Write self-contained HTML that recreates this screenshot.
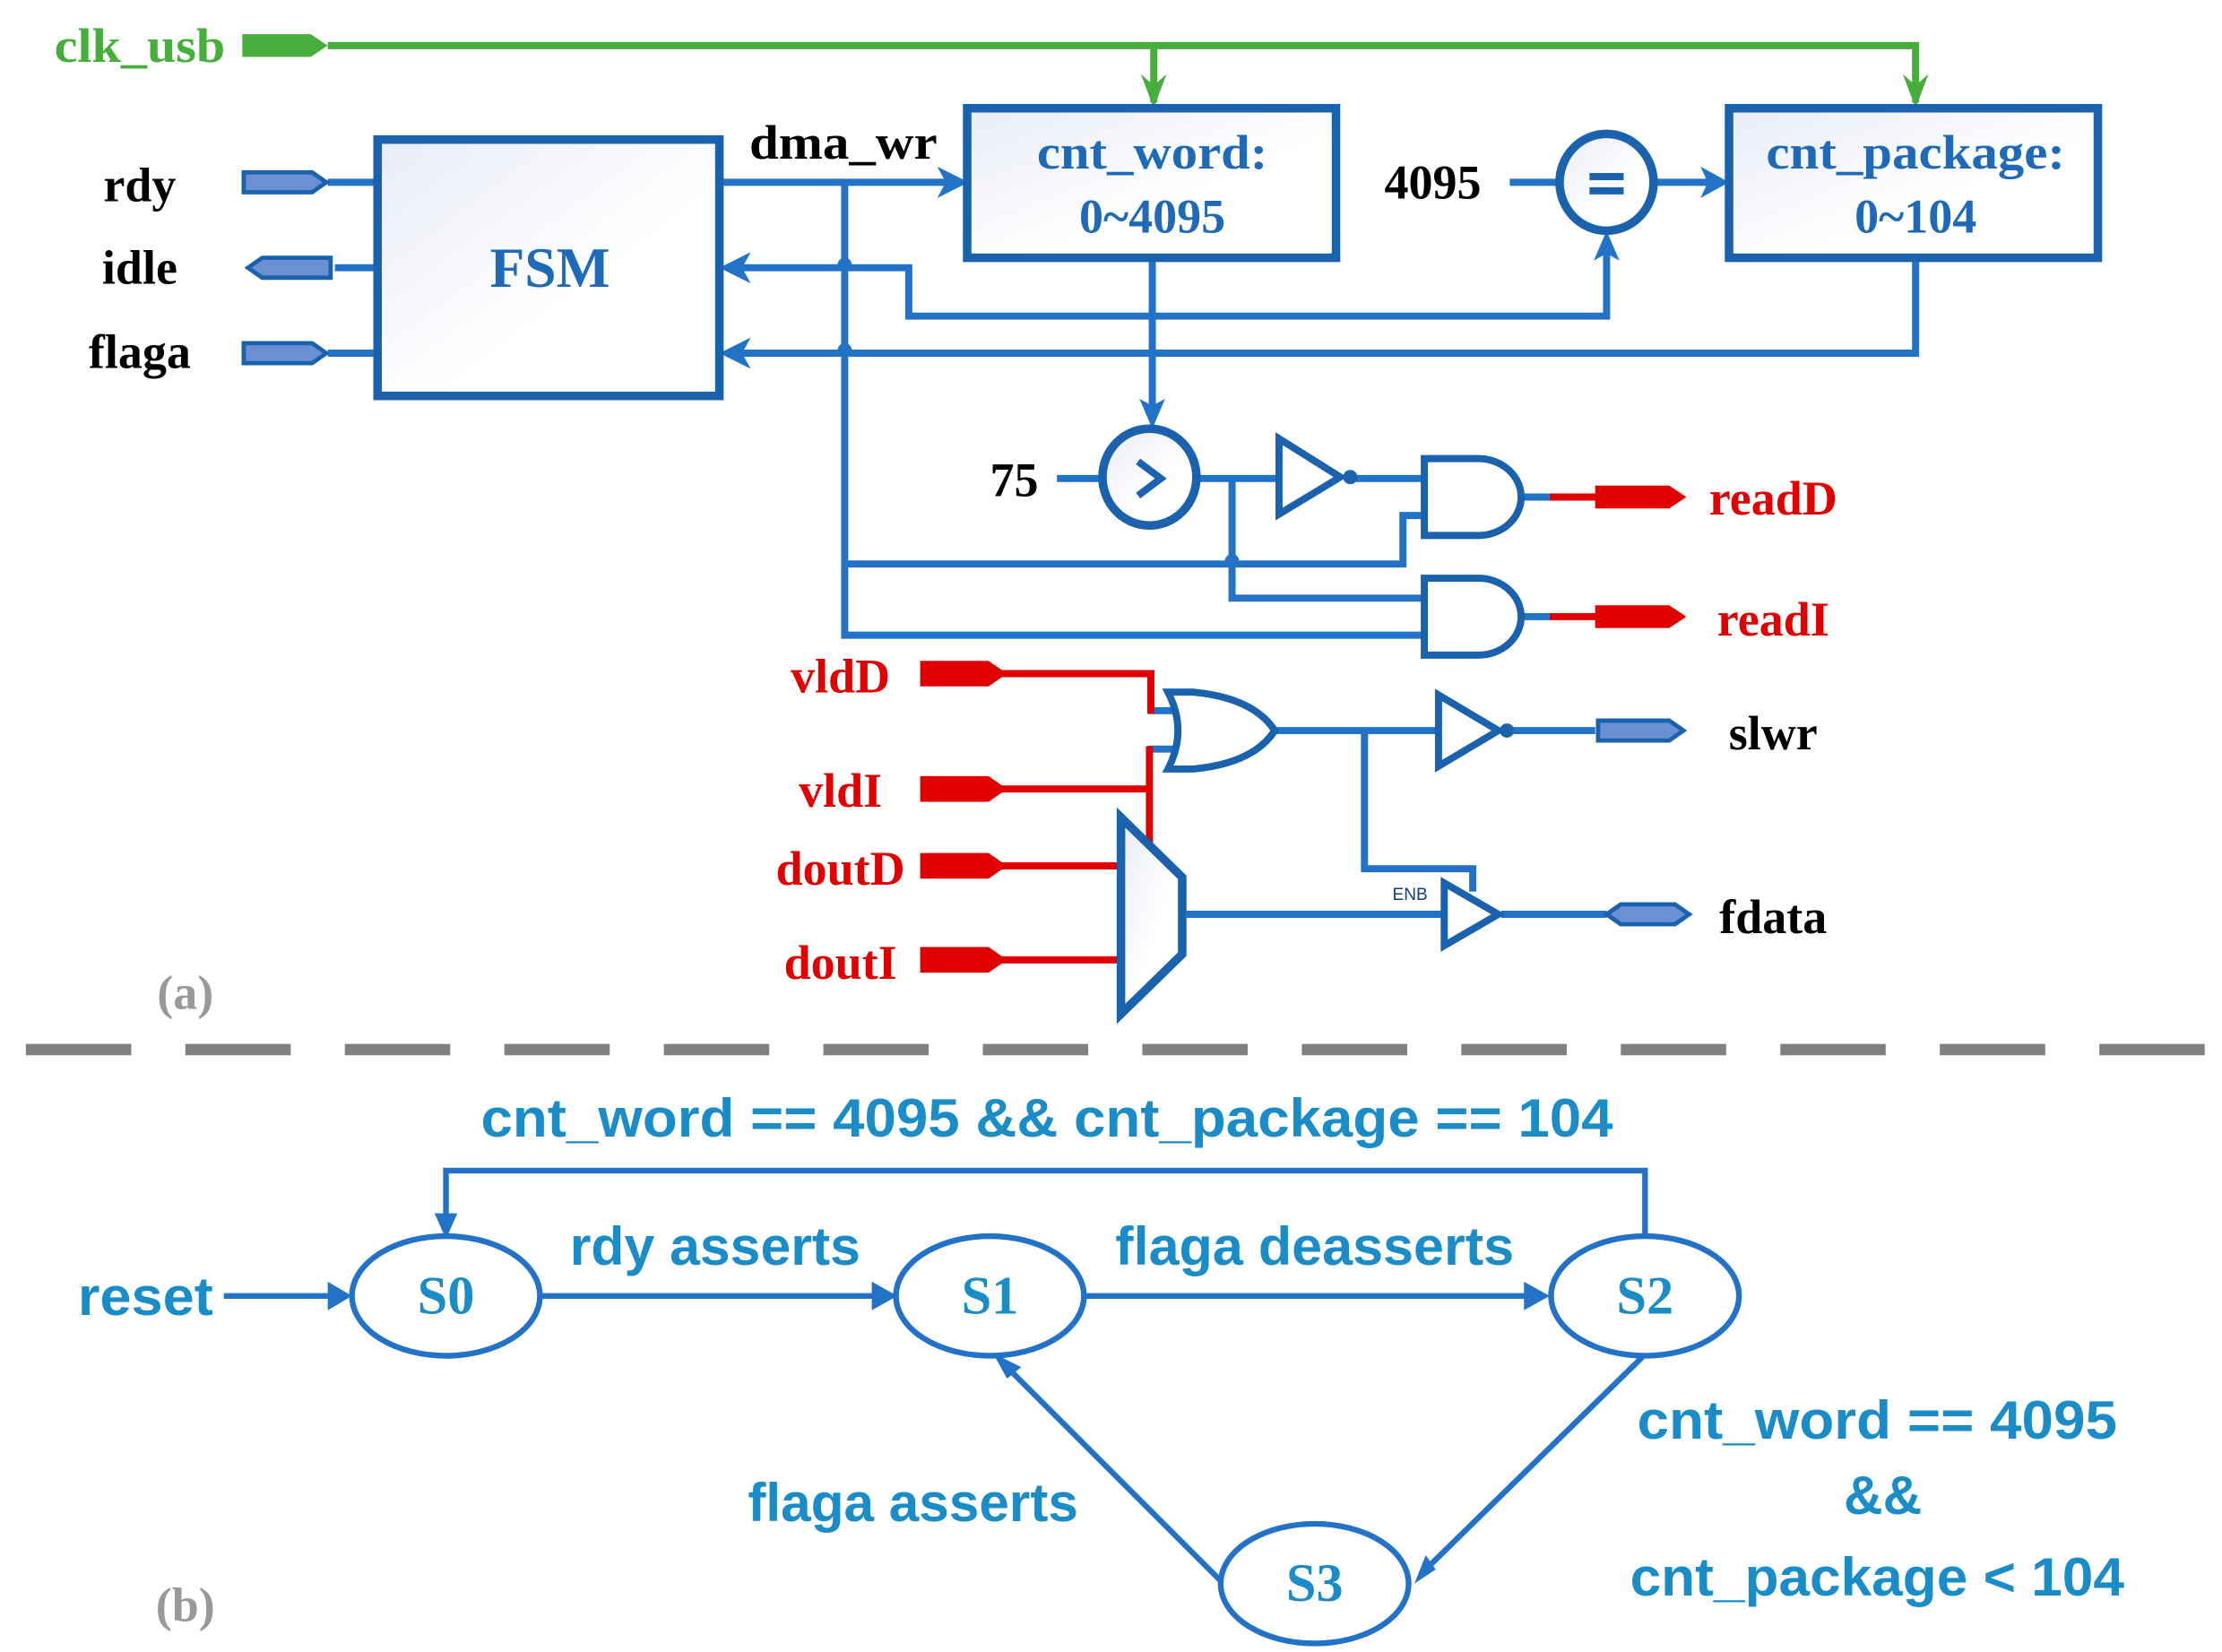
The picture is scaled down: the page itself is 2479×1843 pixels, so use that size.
<!DOCTYPE html>
<html><head><meta charset="utf-8"><style>
html,body{margin:0;padding:0;background:#fff;}
svg{display:block;}
.s{font-family:"Liberation Serif",serif;font-weight:bold;}
.b{font-family:"Liberation Sans",sans-serif;font-weight:bold;fill:#1a8cc8;}
</style></head><body>
<svg width="2479" height="1843" viewBox="0 0 1560 1160" xmlns="http://www.w3.org/2000/svg">
<defs>
<linearGradient id="g" x1="0" y1="0" x2="1" y2="1"><stop offset="0" stop-color="#e8ecf7"/><stop offset="0.6" stop-color="#ffffff"/></linearGradient>
</defs>
<g fill="none" stroke-linejoin="miter">
<path d="M230,32 H1345 V72 M810,32 V72" stroke="#46ae3a" stroke-width="5"/>
<path d="M170,24 H218 L230,32 L218,40 H170Z" fill="#46ae3a"/>
<path d="M801,52 L810,76 L819,52 L810,60Z M1336,52 L1345,76 L1354,52 L1345,60Z" fill="#46ae3a"/>

<g stroke="#2272c8" stroke-width="5">
<path d="M230,128 H265 M235,188 H265 M230,248 H265"/>
<path d="M505,128 H668"/>
<path d="M593,128 V446 H1000"/>
<path d="M515,188 H638 V222 H1128 V170"/>
<path d="M809,182 V292"/>
<path d="M515,248 H1345 V182"/>
<path d="M1060,128 H1093 M1162,128 H1205"/>
<path d="M742,336 H775 M842,336 H900 M952,336 H1000"/>
<path d="M865,336 V420 H1000"/>
<path d="M593,396 H985 V362 H1000"/>
<path d="M1070,349 H1088 M1070,433 H1088"/>
<path d="M806,499 H830 M806,526 H830"/>
<path d="M896,513 H1010 M1062,513 H1120"/>
<path d="M958,513 V610 H1034 V626"/>
<path d="M833,642 H1012 M1054,642 H1128"/>
</g>
<g fill="#2272c8">
<path d="M658,117 L680,128 L658,139 L664,128Z"/>
<path d="M527,177 L505,188 L527,199 L521,188Z"/>
<path d="M527,237 L505,248 L527,259 L521,248Z"/>
<path d="M1194,117 L1214,128 L1194,139 L1199,128Z"/>
<path d="M1119,183 L1128,162 L1137,183 L1128,178Z"/>
<path d="M800,280 L809,301 L818,280 L809,285Z"/>
<circle cx="593" cy="186" r="5"/><circle cx="593" cy="246" r="5"/><circle cx="865" cy="394" r="5"/>
</g>
<rect x="265" y="98" width="240" height="180" fill="url(#g)" stroke="#1a62ad" stroke-width="6"/>
<rect x="679" y="76" width="259" height="105" fill="url(#g)" stroke="#1a62ad" stroke-width="6"/>
<rect x="1214" y="76" width="259" height="105" fill="url(#g)" stroke="#1a62ad" stroke-width="6"/>
<ellipse cx="1128" cy="128" rx="33" ry="34" fill="url(#g)" stroke="#1a62ad" stroke-width="6"/>
<path d="M1116,124 H1140 M1116,134 H1140" stroke="#1a62ad" stroke-width="5"/>
<ellipse cx="807" cy="335" rx="33" ry="34" fill="url(#g)" stroke="#1a62ad" stroke-width="6"/>
<path d="M799,324 L815,336 L799,348" stroke="#1a62ad" stroke-width="5"/>
<path d="M898,308 L941,335 L898,361Z" fill="#fff" stroke="#1a62ad" stroke-width="5"/>
<circle cx="948" cy="335" r="5" fill="#1a62ad"/>
<path d="M1000,322 H1038 A30,27 0 0 1 1038,376 H1000Z" fill="#fff" stroke="#1a62ad" stroke-width="5"/>
<path d="M1000,406 H1038 A30,27 0 0 1 1038,460 H1000Z" fill="#fff" stroke="#1a62ad" stroke-width="5"/>
<g fill="#6a8fd2" stroke="#1a62ad" stroke-width="3">
<path d="M171,121 H219 L229,128 L219,135 H171Z"/>
<path d="M232,181 H184 L174,188 L184,195 H232Z"/>
<path d="M171,241 H219 L229,248 L219,255 H171Z"/>
<path d="M1122,506 H1172 L1182,513 L1172,520 H1122Z"/>
<path d="M1128,642 L1138,635 H1176 L1186,642 L1176,649 H1138Z"/>
</g>
<g stroke="#e00000" stroke-width="5">
<path d="M1088,349 H1122 M1088,433 H1122"/>
<path d="M700,473 H808 V501 M700,554 H807 M807,524 V595 M700,608 H787 M700,674 H787"/>
</g>
<g fill="#e00000">
<path d="M1120,341 H1172 L1184,349 L1172,357 H1120Z"/>
<path d="M1120,425 H1172 L1184,433 L1172,441 H1120Z"/>
<path d="M646,464 H694 L707,473 L694,482 H646Z"/>
<path d="M646,545 H694 L707,554 L694,563 H646Z"/>
<path d="M646,599 H694 L707,608 L694,617 H646Z"/>
<path d="M646,665 H694 L707,674 L694,683 H646Z"/>
</g>
<path d="M820,486 H838 Q880,490 895,513 Q880,536 838,540 H820 Q834,513 820,486Z" fill="#fff" stroke="#1a62ad" stroke-width="5"/>
<path d="M1010,488 L1052,513 L1010,538Z" fill="#fff" stroke="#1a62ad" stroke-width="5"/>
<circle cx="1058" cy="513" r="5" fill="#1a62ad"/>
<path d="M1014,620 L1052,642 L1014,664Z" fill="#fff" stroke="#1a62ad" stroke-width="5"/>
<path d="M787,574 L830,616 V670 L787,712Z" fill="url(#g)" stroke="#1a62ad" stroke-width="6"/>

<path d="M18,737 H1550" stroke="#808080" stroke-width="8" stroke-dasharray="74 38"/>

<g stroke="#2272c8" stroke-width="4" fill="#fff">
<ellipse cx="313" cy="910" rx="66" ry="42"/>
<ellipse cx="695" cy="910" rx="66" ry="42"/>
<ellipse cx="1155" cy="910" rx="66" ry="42"/>
<ellipse cx="923" cy="1112" rx="66" ry="42"/>
</g>
<g stroke="#2272c8" stroke-width="4">
<path d="M1155,868 V822 H313 V858"/>
<path d="M157,910 H236 M379,910 H618 M761,910 H1078"/>
<path d="M1153,953 L1000,1103"/>
<path d="M857,1110 L705,958"/>
</g>
<g fill="#2272c8">
<path d="M305,852 L313,870 L321,852Z"/>
<path d="M230,900 L247,910 L230,920Z"/>
<path d="M612,900 L630,910 L612,920Z"/>
<path d="M1070,900 L1088,910 L1070,920Z"/>
<path d="M993,1112 L1001,1092 L1008,1102Z"/>
<path d="M697,950 L717,960 L707,968Z"/>
</g>
</g>

<g class="s" font-size="34" text-anchor="middle" dominant-baseline="central">
<text x="98" y="32" fill="#46ae3a" textLength="120" lengthAdjust="spacingAndGlyphs">clk_usb</text>
<text x="98" y="130" fill="#000">rdy</text>
<text x="98" y="188" fill="#000">idle</text>
<text x="98" y="247" fill="#000">flaga</text>
<text x="592" y="100" fill="#000" textLength="132" lengthAdjust="spacingAndGlyphs">dma_wr</text>
<text x="386" y="188" fill="#1f6ab8" font-size="40">FSM</text>
<text x="809" y="107" fill="#1f6ab8" textLength="162" lengthAdjust="spacingAndGlyphs">cnt_word:</text>
<text x="809" y="152" fill="#1f6ab8">0~4095</text>
<text x="1345" y="107" fill="#1f6ab8" textLength="210" lengthAdjust="spacingAndGlyphs">cnt_package:</text>
<text x="1345" y="152" fill="#1f6ab8">0~104</text>
<text x="1006" y="128" fill="#000">4095</text>
<text x="712" y="337" fill="#000">75</text>
<text x="1245" y="350" fill="#e00000">readD</text>
<text x="1245" y="435" fill="#e00000">readI</text>
<text x="590" y="475" fill="#e00000">vldD</text>
<text x="590" y="555" fill="#e00000">vldI</text>
<text x="590" y="610" fill="#e00000">doutD</text>
<text x="590" y="676" fill="#e00000">doutI</text>
<text x="1245" y="515" fill="#000">slwr</text>
<text x="1245" y="644" fill="#000">fdata</text>
<text x="130" y="697" fill="#999">(a)</text>
<text x="130" y="1127" fill="#999">(b)</text>
<text x="313" y="910" fill="#1a8cc8" font-size="38">S0</text>
<text x="695" y="910" fill="#1a8cc8" font-size="38">S1</text>
<text x="1155" y="910" fill="#1a8cc8" font-size="38">S2</text>
<text x="923" y="1112" fill="#1a8cc8" font-size="38">S3</text>
</g>
<text x="990" y="632" font-family="Liberation Sans,sans-serif" font-size="12" fill="#0d3f7a" text-anchor="middle">ENB</text>

<g class="b" font-size="38" text-anchor="middle" dominant-baseline="central">
<text x="735" y="785" textLength="795" lengthAdjust="spacingAndGlyphs">cnt_word == 4095 &amp;&amp; cnt_package == 104</text>
<text x="502" y="875" textLength="204" lengthAdjust="spacingAndGlyphs">rdy asserts</text>
<text x="923" y="875" textLength="280" lengthAdjust="spacingAndGlyphs">flaga deasserts</text>
<text x="102" y="910" textLength="95" lengthAdjust="spacingAndGlyphs">reset</text>
<text x="1318" y="997" textLength="337" lengthAdjust="spacingAndGlyphs">cnt_word == 4095</text>
<text x="1322" y="1050">&amp;&amp;</text>
<text x="1318" y="1107" textLength="347" lengthAdjust="spacingAndGlyphs">cnt_package &lt; 104</text>
<text x="641" y="1055" textLength="232" lengthAdjust="spacingAndGlyphs">flaga asserts</text>
</g>
</svg>
</body></html>
